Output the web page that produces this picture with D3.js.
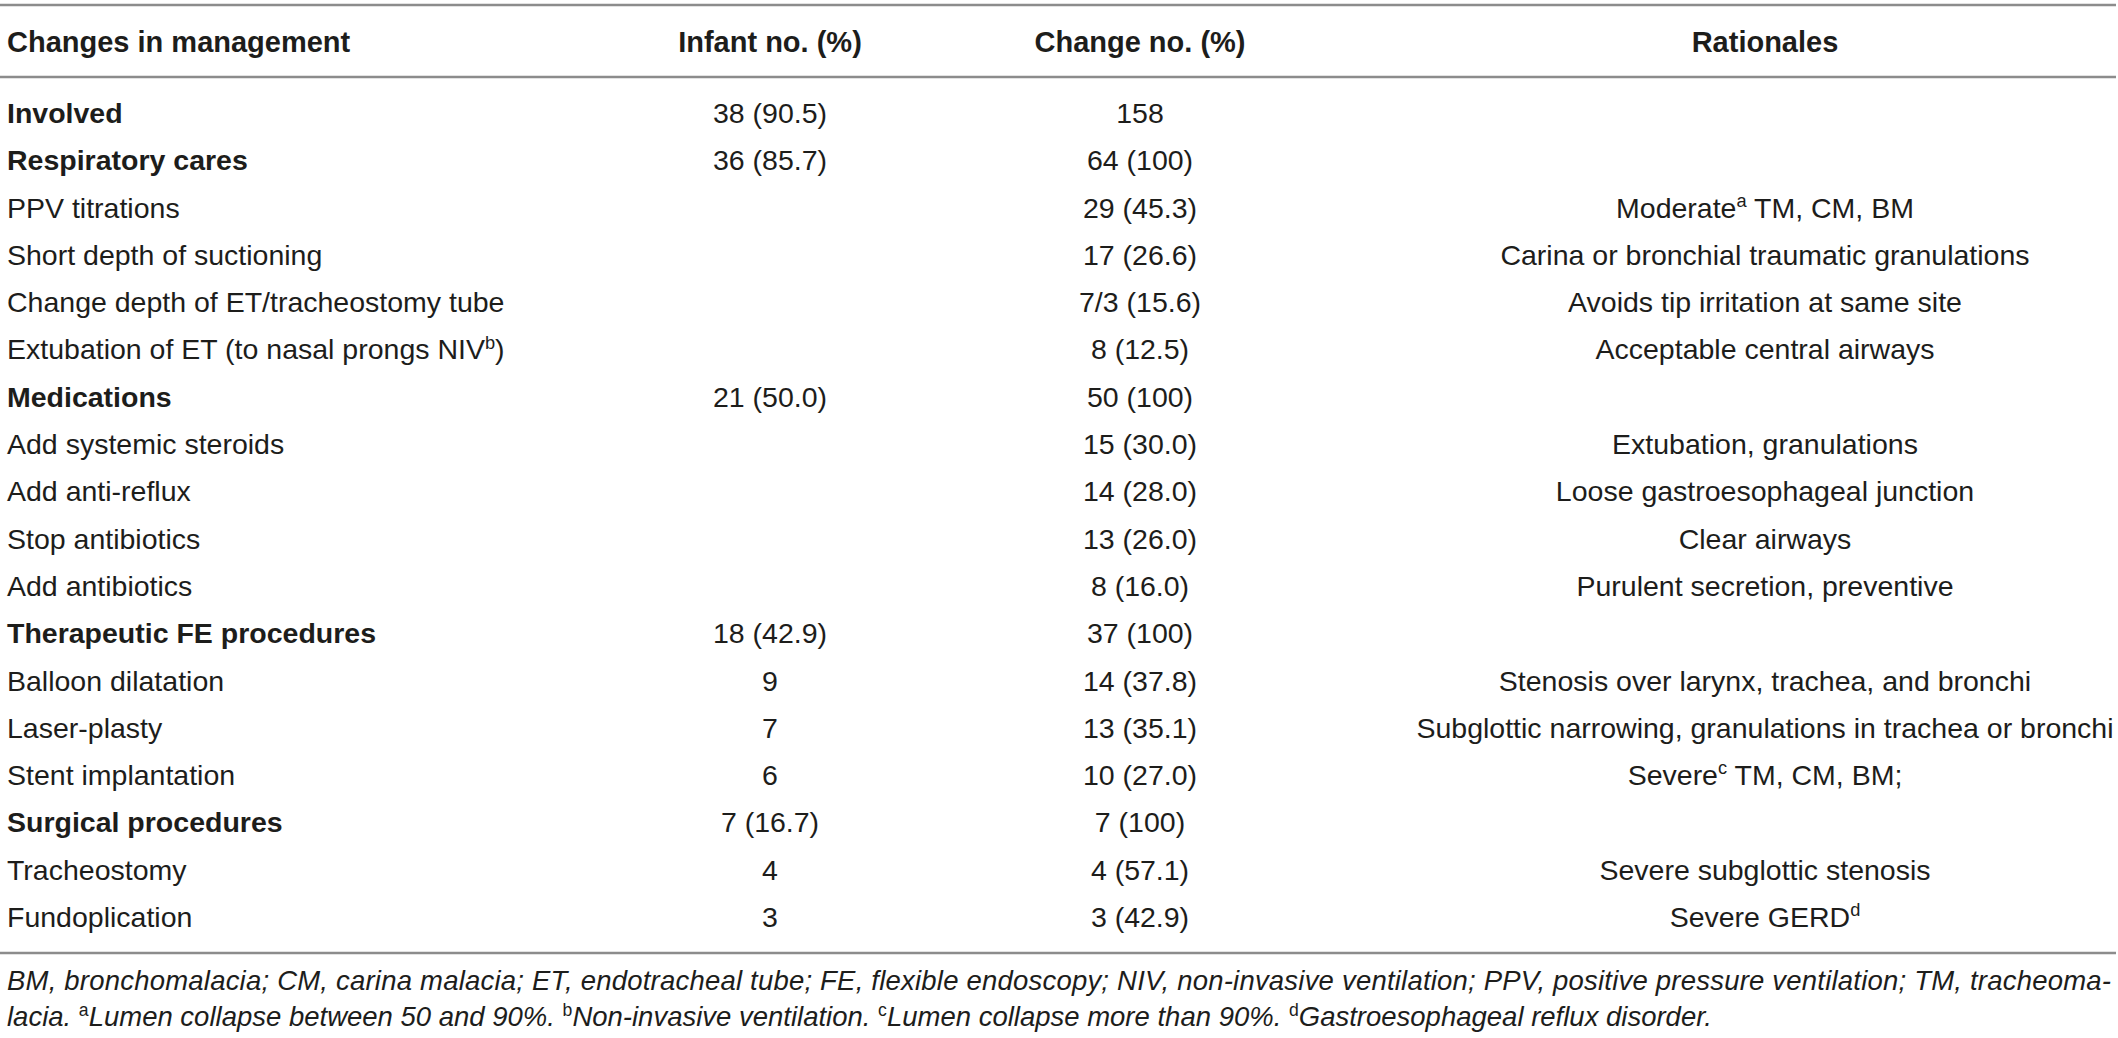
<!DOCTYPE html>
<html>
<head>
<meta charset="utf-8">
<script src="https://cdn.jsdelivr.net/npm/d3@7"></script>
<style>
  body { margin: 0; background: #fff; }
  text { font-family: "Liberation Sans", Arial, sans-serif; fill: #1d1d1b; }
</style>
</head>
<body>
<div id="chart"></div>
<script>
// size of the page
var chart_width  = 2118;
var chart_height = 1038;

// table content
var headers = ["Changes in management", "Infant no. (%)", "Change no. (%)", "Rationales"];

var categories = [
  "Involved", "Respiratory cares", "PPV titrations", "Short depth of suctioning",
  "Change depth of ET/tracheostomy tube", "Extubation of ET (to nasal prongs NIV^b)",
  "Medications", "Add systemic steroids", "Add anti-reflux", "Stop antibiotics",
  "Add antibiotics", "Therapeutic FE procedures", "Balloon dilatation", "Laser-plasty",
  "Stent implantation", "Surgical procedures", "Tracheostomy", "Fundoplication"
];

var groupRows = ["Involved", "Respiratory cares", "Medications", "Therapeutic FE procedures", "Surgical procedures"];

var infantNo = ["38 (90.5)", "36 (85.7)", "", "", "", "", "21 (50.0)", "", "", "", "",
  "18 (42.9)", "9", "7", "6", "7 (16.7)", "4", "3"];

var changeNo = ["158", "64 (100)", "29 (45.3)", "17 (26.6)", "7/3 (15.6)", "8 (12.5)",
  "50 (100)", "15 (30.0)", "14 (28.0)", "13 (26.0)", "8 (16.0)", "37 (100)",
  "14 (37.8)", "13 (35.1)", "10 (27.0)", "7 (100)", "4 (57.1)", "3 (42.9)"];

var rationales = ["", "", "Moderate^a TM, CM, BM", "Carina or bronchial traumatic granulations",
  "Avoids tip irritation at same site", "Acceptable central airways", "",
  "Extubation, granulations", "Loose gastroesophageal junction", "Clear airways",
  "Purulent secretion, preventive", "", "Stenosis over larynx, trachea, and bronchi",
  "Subglottic narrowing, granulations in trachea or bronchi", "Severe^c TM, CM, BM;", "",
  "Severe subglottic stenosis", "Severe GERD^d"];

var footnotes = [
  "BM, bronchomalacia; CM, carina malacia; ET, endotracheal tube; FE, flexible endoscopy; NIV, non-invasive ventilation; PPV, positive pressure ventilation; TM, tracheoma-",
  "lacia. ^aLumen collapse between 50 and 90%. ^bNon-invasive ventilation. ^cLumen collapse more than 90%. ^dGastroesophageal reflux disorder."
];

var svg = d3.select("#chart")
  .append("svg")
  .attr("width", chart_width)
  .attr("height", chart_height);

// row baselines
var y = d3.scaleLinear()
  .domain([0, categories.length - 1])
  .range([123, 927]);

// column anchors: first column left aligned, others centred
var x = d3.scaleOrdinal()
  .domain([0, 1, 2, 3])
  .range([7, 770, 1140, 1765]);

var anchor = function(c){ return c === 0 ? "start" : "middle"; };

// write text with "^x" superscripts as tspans
function addRich(sel, str, size, supUpright){
  var parts = str.split(/\^(\w)/);
  var shift = size * 0.38;
  var raised = false;
  parts.forEach(function(p, i){
    if (p === "") return;
    if (i % 2 === 1) {
      sel.append("tspan")
        .attr("dy", -shift)
        .attr("font-size", size * 0.64)
        .attr("font-style", supUpright ? "normal" : null)
        .text(p);
      raised = true;
    } else {
      sel.append("tspan")
        .attr("dy", raised ? shift : null)
        .text(p);
      raised = false;
    }
  });
}

// rules
[5, 77, 953].forEach(function(ly){
  svg.append("line")
    .attr("x1", 0).attr("x2", 2116)
    .attr("y1", ly).attr("y2", ly)
    .attr("stroke", "#8c8c8c")
    .attr("stroke-width", 2.5);
});

// header
svg.selectAll(".hdr")
  .data(headers)
  .enter()
  .append("text")
  .attr("class", "hdr")
  .attr("x", function(d, i){ return x(i); })
  .attr("y", 52)
  .attr("text-anchor", function(d, i){ return anchor(i); })
  .attr("font-size", 29)
  .attr("font-weight", "bold")
  .text(function(d){ return d; });

// body rows
var rows = svg.selectAll(".row")
  .data(categories)
  .enter()
  .append("g")
  .attr("class", "row")
  .attr("transform", function(d, i){ return "translate(0," + y(i) + ")"; });

rows.each(function(d, i){
  var g = d3.select(this);
  var bold = groupRows.indexOf(d) >= 0;
  var cells = [d, infantNo[i], changeNo[i], rationales[i]];
  cells.forEach(function(c, ci){
    if (!c) return;
    var t = g.append("text")
      .attr("x", x(ci))
      .attr("y", 0)
      .attr("text-anchor", anchor(ci))
      .attr("font-size", 28.5)
      .attr("font-weight", bold && ci === 0 ? "bold" : "normal");
    addRich(t, c, 28.5, false);
  });
});

// footnotes
var fn = svg.selectAll(".fn")
  .data(footnotes)
  .enter()
  .append("text")
  .attr("class", "fn")
  .attr("x", 7)
  .attr("y", function(d, i){ return 990 + i * 36; })
  .attr("font-size", 27.5)
  .attr("font-style", "italic")
  .each(function(d){ addRich(d3.select(this), d, 27.5, true); });

// justify the first footnote line to the table width
fn.filter(function(d, i){ return i === 0; })
  .attr("textLength", 2104)
  .attr("lengthAdjust", "spacing");
</script>
</body>
</html>
